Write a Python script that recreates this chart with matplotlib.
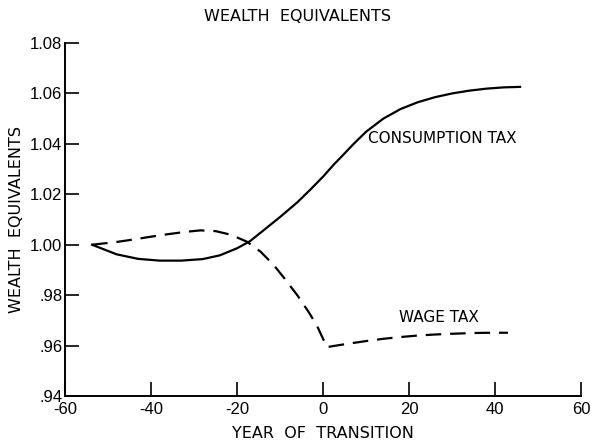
import matplotlib.pyplot as plt
import numpy as np

# consumption tax path
cons_year = [-53.7, -48, -43, -38, -33, -28, -24, -20, -17, -14, -10, -6, -3, 0, 2.5, 5, 7, 10, 14, 18, 22, 26, 30, 34, 38, 42, 45.8]
cons_val = [1.000, 0.9962, 0.9944, 0.9937, 0.9937, 0.9943, 0.9958, 0.9986, 1.0014, 1.0055, 1.0110, 1.0168, 1.0218, 1.0270, 1.0318, 1.0362, 1.0398, 1.0448, 1.0500, 1.0538, 1.0565, 1.0585, 1.0600, 1.0611, 1.0619, 1.0624, 1.0626]

# wage tax path
wage_year = [-53.7, -48, -44, -40, -36, -32, -28.5, -25, -21.5, -17.7, -14.5, -11.5, -9, -6, -3.5, -1.5, 0.9, 3, 6, 10, 14, 18, 22, 26, 30, 35, 39, 43]
wage_val = [1.000, 1.0011, 1.0021, 1.0032, 1.0042, 1.0051, 1.0057, 1.0054, 1.0040, 1.0012, 0.9972, 0.9920, 0.9867, 0.9800, 0.9737, 0.9682, 0.9594, 0.9600, 0.9608, 0.9618, 0.9627, 0.9634, 0.9640, 0.9644, 0.9647, 0.9650, 0.9651, 0.9651]

x_ticks = [-60, -40, -20, 0, 20, 40, 60]
y_ticks = [0.94, 0.96, 0.98, 1.00, 1.02, 1.04, 1.06, 1.08]
y_labels = ['.94', '.96', '.98', '1.00', '1.02', '1.04', '1.06', '1.08']

plt.rcParams['font.family'] = ['Liberation Sans', 'DejaVu Sans']
plt.rcParams['axes.unicode_minus'] = False

fig = plt.figure(figsize=(5.93, 4.46), dpi=100)
ax = fig.add_axes([0.1096, 0.112, 0.8704, 0.7916])

ax.plot(cons_year, cons_val, color='black', linewidth=1.6)
ax.plot(wage_year, wage_val, color='black', linewidth=1.6, dashes=(7, 4))

ax.set_xlim(-60, 60)
ax.set_ylim(0.94, 1.08)
ax.set_xticks(x_ticks)
ax.set_yticks(y_ticks)
ax.set_yticklabels(y_labels)
ax.tick_params(direction='in', length=10, width=1.2, labelsize=12)
ax.tick_params(axis='x', pad=4)
ax.tick_params(axis='y', pad=2)

ax.spines['top'].set_visible(False)
ax.spines['right'].set_visible(False)
ax.spines['left'].set_linewidth(1.4)
ax.spines['bottom'].set_linewidth(1.4)

txt = dict(fontsize=11, family=['DejaVu Sans'])
ax.text(10.5, 1.042, 'CONSUMPTION TAX', va='center', ha='left', **txt)
ax.text(17.7, 0.971, 'WAGE TAX', va='center', ha='left', **txt)

big = dict(fontsize=11.5, family=['DejaVu Sans'])
fig.text(0.502, 0.963, 'WEALTH  EQUIVALENTS', ha='center', va='center', **big)
ax.set_xlabel('YEAR  OF  TRANSITION', labelpad=7, **big)
ax.set_ylabel('WEALTH  EQUIVALENTS', labelpad=4, **big)

fig.savefig('out.png', dpi=100)
